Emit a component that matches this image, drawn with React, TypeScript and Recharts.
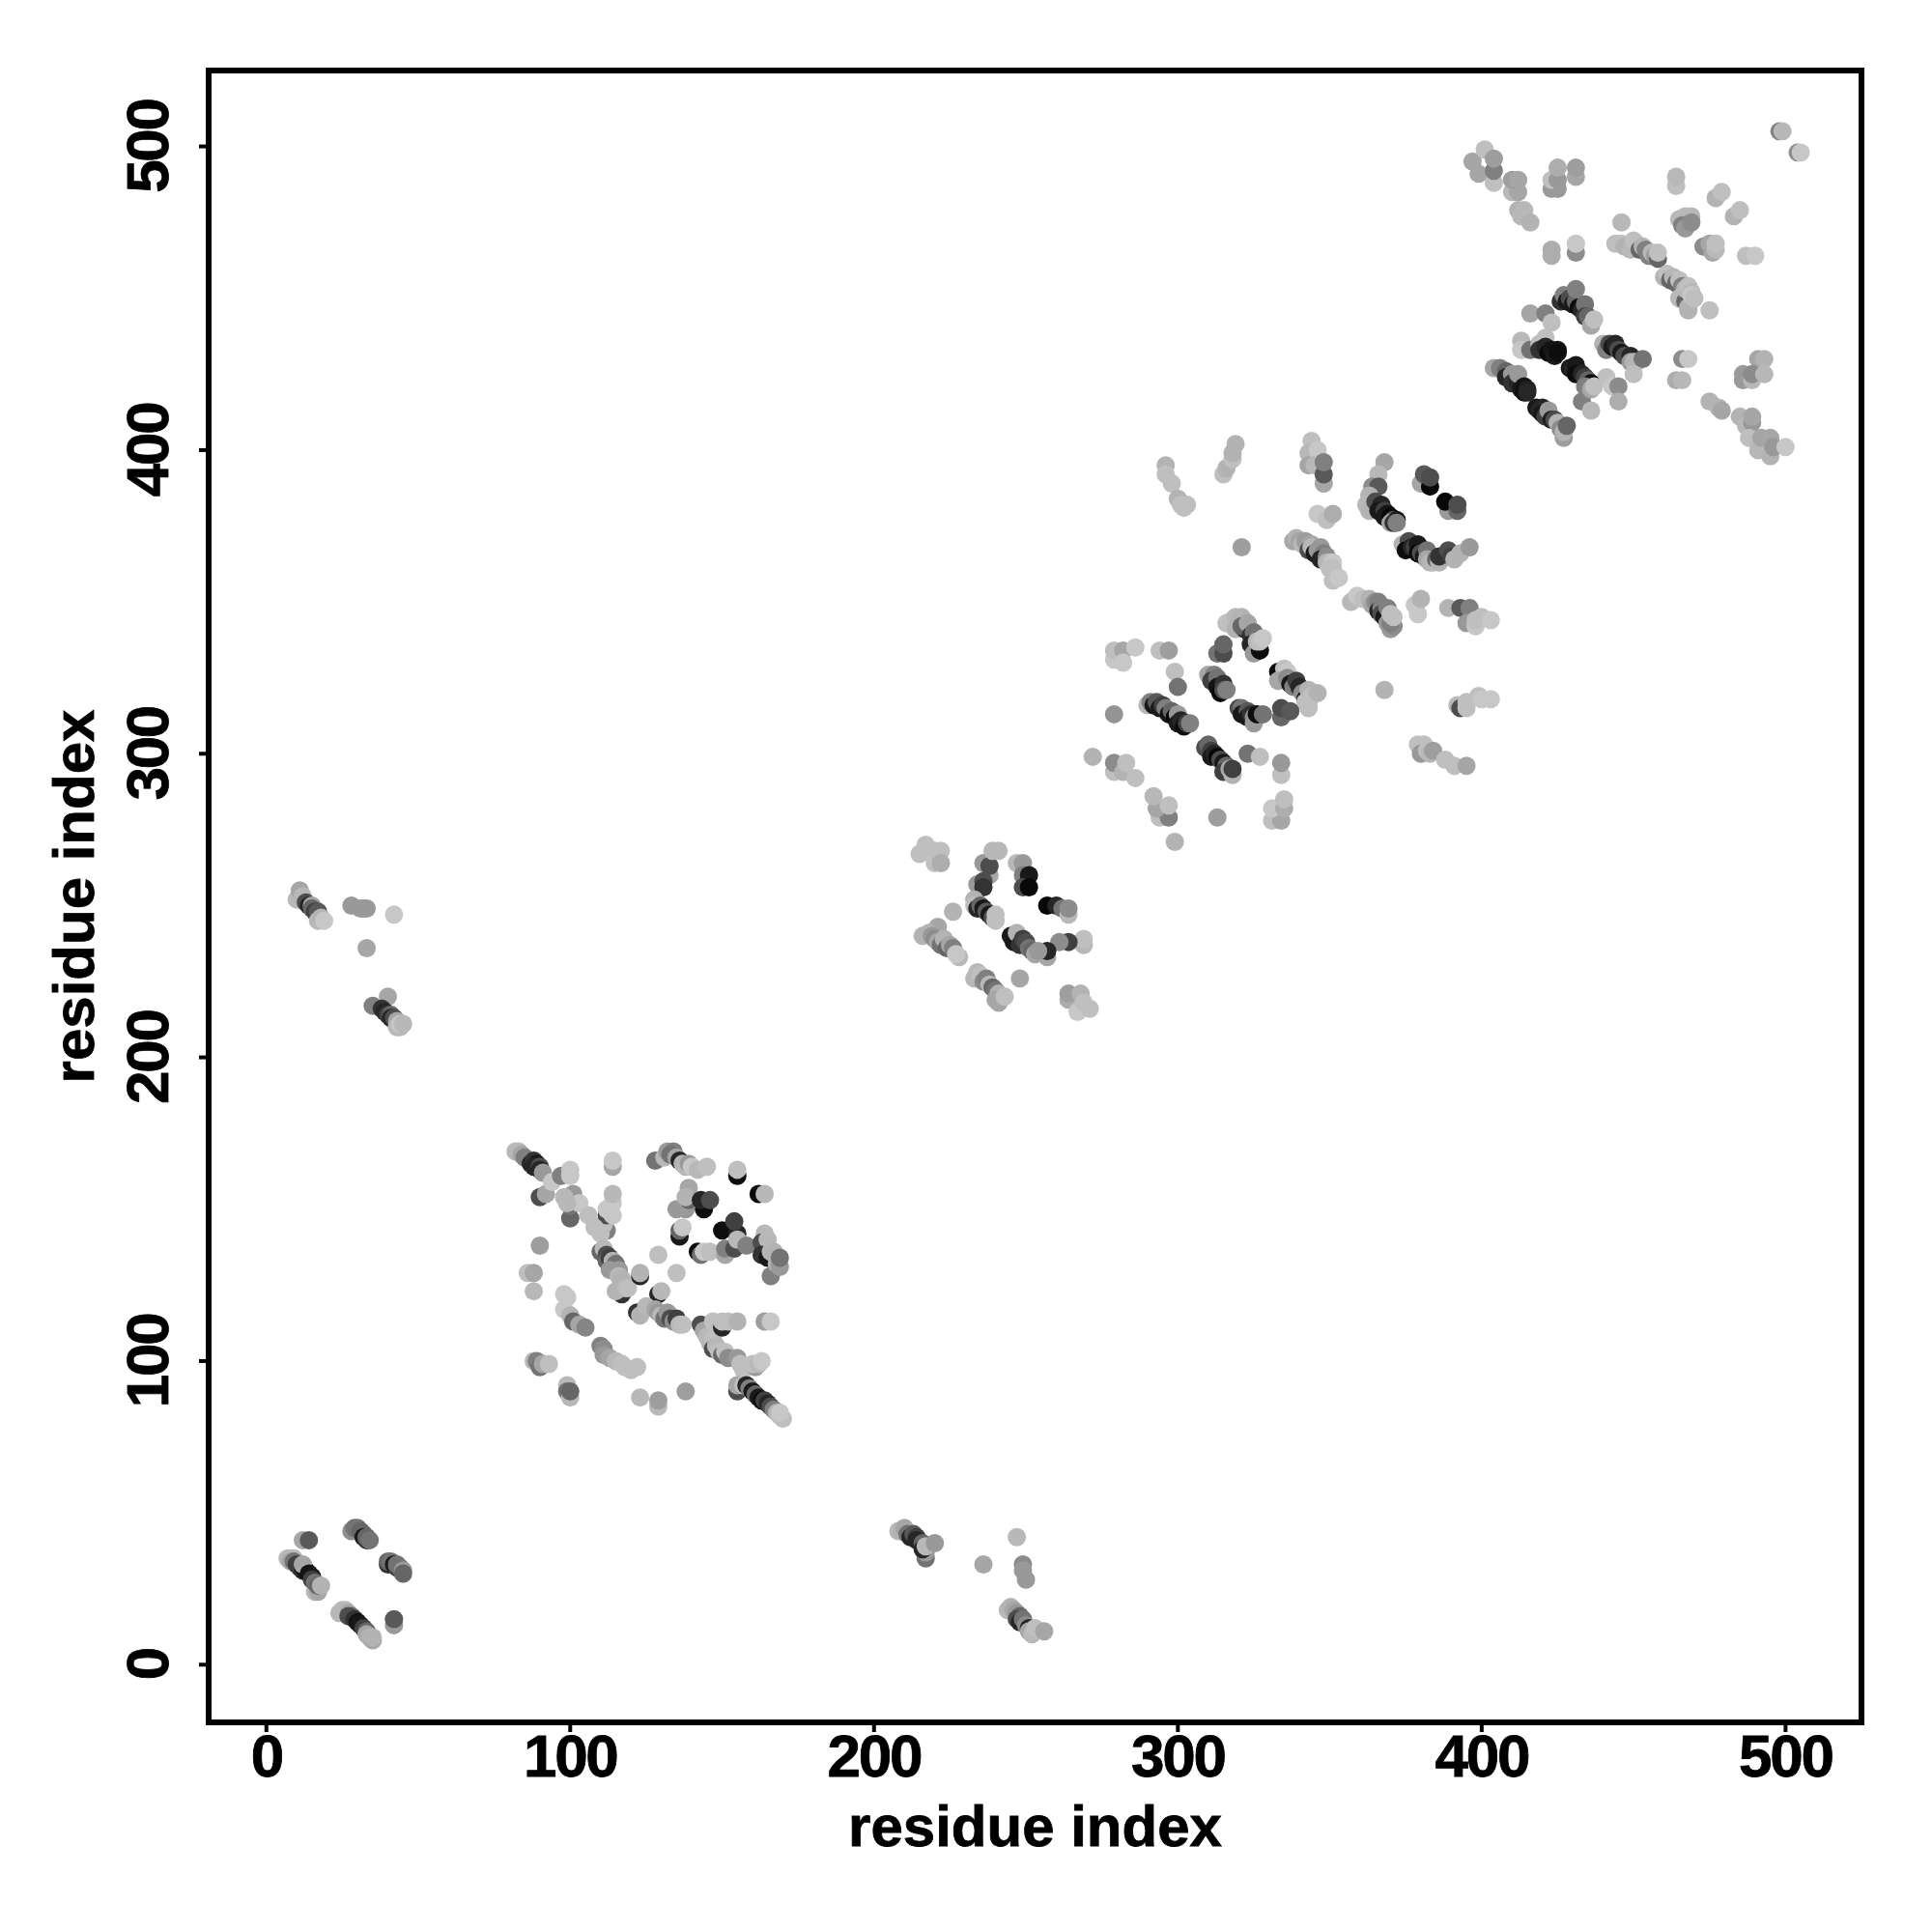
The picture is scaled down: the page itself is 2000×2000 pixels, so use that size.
import React from 'react';
import { ScatterChart, Scatter, XAxis, YAxis, ZAxis, Cell, ReferenceArea } from 'recharts';

type T = [number, number, number];
// each contact: [residue i, residue j, score 0-100]
const contactsA: T[] = [[7,35,28],[8,35,28],[9,35,28],[8,34,35],[9,34,55],[10,33,75],[11,32,75],[12,31,85],[13,31,92],[12,33,35],[14,30,92],[15,29,90],[16,24,28],[17,24,35],[15,28,75],[16,27,55],[17,26,60],[18,26,30],
[24,17,28],[25,18,28],[26,18,28],[27,17,35],[28,16,55],[27,16,70],[29,15,80],[30,14,92],[31,13,90],[32,12,75],[33,11,60],[33,10,35],[34,9,30],[35,8,35],[35,9,30],
[28,44,45],[29,45,55],[30,45,55],[31,44,60],[32,43,60],[32,42,90],[33,41,80],[33,42,60],[34,41,55],
[40,33,80],[40,34,60],[41,34,55],[42,33,90],[43,32,75],[43,33,55],[44,32,55],[45,31,40],[45,30,60],
[12,41,35],[14,41,65],[42,13,40],[42,15,65]];
const contactsB: T[] = [[10,252,28],[11,255,35],[12,253,28],[13,251,70],[14,250,85],[15,250,35],[15,249,60],[16,248,75],[17,248,65],[17,245,28],[18,246,30],[19,245,22],
[28,250,40],[31,249,40],[32,249,40],[33,249,40],[42,247,22],[33,236,35],[35,217,50],[40,220,35],[38,216,80],[39,215,85],[40,214,75],[41,214,60],[41,213,85],[42,213,70],[43,212,35],[43,210,28],[44,210,28],[44,211,22],[45,211,28]];
const contactsC: T[] = [[208,44,28],[209,44,30],[210,45,35],[211,43,55],[212,42,85],[213,43,65],[214,42,75],[214,41,85],[216,40,60],[217,35,55],[217,37,40],[216,38,85],[217,39,28],[220,40,40],
[236,33,35],[247,42,28],[249,33,45],[249,31,40],[250,28,40],
[244,18,28],[245,19,30],[246,18,35],[247,17,40],[248,16,60],[247,15,70],[248,14,85],[249,15,55],[250,13,45],[251,12,85],[251,11,35],[252,10,28],[253,12,25],[256,11,35]];
const contactsD: T[] = [[82,169,28],[83,169,28],[84,168,35],[85,167,50],[87,165,85],[88,166,80],[89,165,90],[88,164,85],[90,164,70],[90,163,85],[90,154,70],[92,155,35],[91,162,40],[94,159,22],[97,161,50],[100,163,22],[100,161,22],
[114,164,35],[114,166,22],[112,143,50],[111,145,25],[112,148,70],[112,150,22],[114,148,22],[114,152,22],[114,155,28],
[100,147,60],[100,151,55],[101,155,40],[103,152,22],[98,154,28],[99,152,28],[106,148,25],[108,144,25],[110,142,25],
[90,138,38],[86,129,25],[88,129,35],[88,123,28],
[110,136,60],[111,137,28],[112,135,70],[112,133,60],[113,134,75],[114,133,30],[115,132,55],[113,130,40],[116,130,40],[116,128,28],[117,127,30],[117,122,80],[115,123,30],[118,124,28],[119,124,25],
[123,128,85],[123,129,30],[129,135,25],[135,129,25],[129,122,85],[130,123,28],[122,116,80],[123,115,30],[125,118,28],
[128,117,35],[129,116,40],[130,115,28],[131,114,55],[132,116,40],[133,114,70],[134,113,45],[135,114,75],[136,112,28],[137,112,25],
[143,112,70],[144,110,35],[145,108,28],[146,106,28],[147,107,25],[147,104,70],[148,105,28],[149,103,25],[150,102,60],[151,103,25],[152,101,45],
[147,113,25],[150,111,85],[150,113,25],[152,113,25],[155,113,30],[164,113,38],[166,113,22],
[155,101,40],[156,99,25],[157,97,25],[161,98,40],[160,99,25],[162,99,28],[163,100,22],[155,90,70],[155,92,35],[157,92,25],
[158,92,85],[159,91,50],[160,90,90],[161,89,60],[162,88,90],[163,87,95],[164,87,75],[165,86,85],[166,85,70],[167,84,50],[168,83,30],[169,82,25],[170,81,25],[169,83,22],
[128,166,55],[131,167,28],[132,169,40],[134,169,50],[133,168,55],[135,167,35],[136,166,85],[137,165,30],[138,164,28],[139,165,40],[140,164,22],[142,163,28],[145,164,25],
[139,157,35],[135,150,40],[138,150,40],[139,153,60],[138,154,30],[144,150,95],[143,153,85],[146,153,70],
[155,161,95],[155,163,25],[162,155,97],[164,155,28],[136,141,90],[136,143,60],[137,144,22],[142,136,95],[143,135,55],[144,136,22],[146,136,25],
[151,135,35],[151,137,50],[150,143,95],[155,142,85],[154,146,75],[154,137,70],[155,140,28],[158,138,50],
[166,128,50],[164,142,28],[163,139,70],[165,140,28],[163,135,80],[165,134,90],[166,136,28],[167,136,30],[168,132,30],[169,131,40],[169,134,55],
[98,122,22],[99,121,22],[98,117,22],[100,115,30],[101,113,60],[103,112,35],[105,111,48],
[110,105,50],[111,104,45],[111,102,40],[113,101,35],[115,100,28],[117,99,25],[118,98,25],[120,97,25],[122,98,25],
[88,100,28],[89,100,50],[90,98,55],[91,99,35],[93,99,25],[99,92,28],[99,90,55],[100,88,28],[100,90,60],
[123,88,28],[129,85,28],[129,87,38],[138,90,38]];
const contactsE: T[] = [[215,267,25],[217,270,25],[220,268,25],[222,268,25],[220,264,25],[222,264,32],
[236,264,40],[238,260,35],[238,263,70],[239,268,28],[241,268,28],[234,257,40],[236,258,70],[236,256,80],[233,252,30],[233,250,25],
[234,249,85],[235,250,60],[236,249,90],[237,248,65],[238,247,90],[239,246,70],[240,245,25],[240,247,25],[226,248,30],
[247,264,28],[249,264,40],[249,260,50],[251,260,90],[249,256,70],[251,256,97],[257,250,97],[260,250,85],[262,249,55],[264,247,28],[264,249,45],
[269,237,28],[269,239,25],[264,238,75],[261,238,45],[257,233,35],[257,235,85],
[245,240,90],[246,238,90],[247,241,30],[248,237,80],[249,239,75],[250,238,70],[251,236,55],[252,235,60],[253,234,35],[254,235,40],
[216,240,30],[221,243,35],[218,241,30],[219,240,40],[220,239,45],[221,238,35],[222,237,55],[223,239,30],[224,236,60],[225,237,35],[226,236,50],[228,233,28],[227,234,22],
[233,226,28],[234,228,28],[235,227,25],[236,225,45],[237,226,50],[238,224,28],[239,223,60],[240,222,55],[241,221,30],[240,219,35],[241,218,35],[243,220,25],
[248,226,35],[264,219,32],[264,221,38],[268,221,30],[267,215,22],[269,218,25],[271,216,25]];
const contactsF: T[] = [[279,331,22],[279,334,25],[282,334,35],[282,330,22],[286,335,22],[294,334,25],[297,334,38],[299,327,25],[300,322,55],[279,313,42],
[290,316,28],[291,317,50],[292,316,90],[293,317,65],[294,315,90],[295,316,75],[296,315,50],[297,313,92],[298,314,60],[299,312,97],[300,313,40],[300,310,90],[301,311,85],[302,309,95],[303,310,75],[304,310,50],
[309,302,70],[310,303,60],[311,301,75],[311,299,90],[312,300,85],[313,299,97],[314,298,70],[315,297,90],[316,296,60],[315,294,75],[317,295,35],[318,293,30],[318,295,75],
[323,300,55],[327,299,25],[334,293,25],[334,297,40],[331,278,25],[334,278,35],[331,282,22],[335,282,32],[335,285,25],[313,279,38],[299,271,30],
[294,279,25],[297,279,50],[293,282,35],[297,283,25],[292,286,28],[279,294,25],[279,297,45],[282,294,30],[283,297,25],[286,292,25],[272,299,30],
[313,333,55],[315,333,70],[315,336,60],
[316,343,25],[318,344,25],[319,345,28],[320,343,30],[319,341,30],[321,345,30],[322,341,85],[321,342,60],[323,343,35],[324,339,80],[325,340,55],[324,336,85],[326,335,90],[325,333,40],[327,334,95],[326,337,28],[327,337,25],[328,338,22],
[310,326,35],[312,326,50],[311,324,75],[313,325,55],[313,322,92],[315,323,80],[314,320,97],[315,321,70],[316,321,50],
[320,315,70],[321,315,55],[321,313,90],[323,314,65],[323,312,90],[324,313,80],[325,312,45],[325,310,40],[326,313,95],[328,313,55],
[333,327,95],[335,328,25],[336,327,22],[333,324,35],[336,325,45],[337,323,90],[338,322,50],[339,324,75],[340,322,85],[341,320,45],[342,318,90],[342,317,25],[343,316,25],[343,321,30],[344,319,25],[346,320,30],
[334,312,60],[334,315,70],[337,314,65],[343,315,25]];
const contactsG: T[] = [[344,403,25],[348,389,35],[343,399,28],[344,397,28],[343,395,35],[346,400,22],[345,395,28],[348,392,65],[348,396,50],[346,379,22],[349,377,25],[351,379,32],
[338,370,35],[339,371,30],[340,370,35],[341,369,28],[342,370,38],[344,369,35],[343,367,70],[344,368,28],[345,366,90],[346,367,40],[347,368,40],[348,366,50],[347,364,85],[349,365,45],[349,363,30],[350,363,28],[351,363,22],[350,361,25],[351,361,25],[351,357,25],[353,358,22],
[357,350,28],[359,352,22],[361,351,25],[363,351,30],[364,349,35],[365,350,45],[366,350,50],[366,347,85],[367,348,50],[367,346,70],[368,345,90],[369,343,40],[370,341,40],[371,342,45],[370,343,50],[369,348,50],[371,345,25],[370,346,25],
[378,349,22],[379,346,22],[380,351,30],[389,348,30],[393,348,65],[396,348,50],[395,343,40],[398,342,22],[398,344,25],[400,345,25],[403,344,22],
[368,396,35],[366,392,28],[364,388,45],[366,388,65],[363,385,30],[362,382,28],[363,380,30],
[365,383,70],[367,382,85],[366,380,90],[368,380,75],[369,379,92],[368,378,90],[370,378,97],[371,377,60],[370,376,35],[372,377,90],[371,376,80],[372,376,50],
[380,389,35],[383,388,97],[381,392,65],[383,391,70],[389,380,40],[388,383,97],[392,380,60],[392,382,70],
[374,369,30],[376,370,70],[375,367,95],[377,368,85],[378,368,75],[379,369,90],[379,366,97],[380,366,70],[381,365,90],[382,367,55],[382,364,35],[383,363,30],[384,363,28],[385,364,60],[386,363,30],[386,365,80],[389,367,70],[390,365,75],[391,364,30],[393,366,30],[396,368,40],
[368,321,30],[321,368,38],[392,316,28],[393,315,70],[395,317,25],[395,315,25],[399,319,25],[400,318,22],[403,318,22],
[379,303,25],[381,303,25],[380,300,40],[382,301,25],[383,300,28],[384,301,38],[388,298,25],[391,296,25],[395,296,35],
[296,395,30],[296,392,25],[298,389,25],[300,384,30],[301,382,25],[302,381,25],[303,382,25],[315,392,25],[316,394,30],[318,397,25],[318,399,30],[319,402,30]];
const contactsH: T[] = [[397,495,35],[401,499,25],[399,491,35],[404,488,25],[404,492,50],[404,496,38],[410,485,28],[412,485,35],[410,489,38],[412,489,35],[412,479,30],[414,479,28],[413,477,28],[416,475,30],
[423,486,40],[425,486,40],[423,489,25],[425,489,40],[425,493,32],[431,490,35],[431,493,38],[431,465,45],[431,468,22],[423,464,32],[423,466,32],
[464,487,25],[464,490,28],[477,483,30],[479,485,25],[483,477,30],[485,479,25],[446,475,28],
[444,468,25],[446,468,25],[447,467,30],[449,466,28],[450,469,25],[451,468,25],[452,466,60],[453,467,30],[454,466,50],[455,464,50],[456,465,28],[457,464,38],[458,463,60],[458,465,25],
[465,476,28],[467,477,28],[469,477,28],[466,474,50],[467,473,40],[469,475,45],[473,467,45],[475,468,35],[476,465,35],[477,466,28],[477,468,25],[487,464,25],[490,464,22],
[460,457,30],[461,458,25],[462,456,60],[463,457,28],[464,455,60],[465,456,25],[466,454,50],[465,450,28],[467,449,60],[468,447,28],[468,446,30],[467,453,28],[468,454,25],[469,452,28],[469,451,22],[470,450,25],[475,446,25],
[466,430,45],[468,430,22],[464,423,32],[466,423,28],[491,430,35],[493,430,30],[486,425,40],[486,423,40],[489,423,28],[489,425,45],[493,425,28],
[475,416,30],[478,414,30],[479,413,35],[485,411,30],[487,408,28],[489,409,40],[489,411,35],[488,404,25],[491,400,28],[492,404,35],[495,398,30],[495,404,35],[496,401,40],[500,401,22],[498,505,50],[499,505,28],[504,498,45],[505,498,22],
[426,449,80],[427,451,50],[428,449,90],[429,450,70],[430,448,90],[431,449,60],[432,447,95],[433,446,85],[434,448,55],[434,444,75],[435,444,60],[436,441,35],[431,453,50],[437,443,25],
[416,445,35],[421,445,50],[423,442,25],[413,436,28],[413,433,22],[416,433,55],[419,435,25],[421,437,25],[419,433,80],[421,434,85],[422,432,97],[423,433,92],[424,431,90],[425,433,92],[425,432,95],
[440,435,30],[441,433,50],[442,435,70],[443,434,90],[444,435,85],[445,433,70],[446,432,90],[447,431,70],[449,431,85],[449,429,40],[450,429,30],[451,429,30],[453,430,55],[450,425,25],
[441,424,25],[443,421,22],[445,421,45],[445,416,32],[433,416,50],[436,413,28],
[429,427,90],[430,427,85],[431,428,90],[431,425,95],[433,425,85],[434,424,75],[435,423,60],[436,422,95],[434,421,50],[436,420,35],[437,421,25],
[404,427,35],[406,427,50],[408,426,60],[408,424,85],[410,425,40],[411,423,60],[410,422,80],[412,422,85],[412,425,40],[413,420,90],[414,421,92],[414,419,95],[415,420,88],[415,419,85],
[418,414,90],[419,413,85],[420,414,85],[420,412,90],[421,411,75],[422,413,40],[423,410,88],[424,410,70],[425,409,30],[427,404,38],[426,407,45],[427,406,30],[428,408,60]];

const axisTicks = [0, 100, 200, 300, 400, 500];
const axisDomain: [number, number] = [-19, 525];
const axisTitle = 'residue index';
const FONT = '"Liberation Sans", Arial, sans-serif';

const rows = [...contactsA, ...contactsB, ...contactsC, ...contactsD, ...contactsE, ...contactsF, ...contactsG, ...contactsH]
  .map(([i, j, score]) => ({ i, j, score }));

const greyOf = (score: number) => {
  const g = Math.round(255 * (1 - score / 100));
  return `rgb(${g},${g},${g})`;
};

const XTick = (p: any) => (
  <text
    x={p.x}
    y={p.y + 46}
    textAnchor="middle"
    fontFamily={FONT}
    fontWeight={700}
    fontSize={62}
    letterSpacing={-2.3}
    stroke="#000"
    strokeWidth={0.8}
    fill="#000"
  >
    {p.payload.value}
  </text>
);

const YTick = (p: any) => {
  const tx = p.x - 32;
  return (
    <text
      x={tx}
      y={p.y}
      transform={`rotate(-90 ${tx} ${p.y})`}
      textAnchor="middle"
      fontFamily={FONT}
      fontWeight={700}
      fontSize={62}
      letterSpacing={-2.3}
      stroke="#000"
      strokeWidth={0.8}
      fill="#000"
    >
      {p.payload.value}
    </text>
  );
};

const titleStyle = { fontFamily: FONT, fontWeight: 700, fontSize: 60, fill: '#000', stroke: '#000', strokeWidth: 0.8 };

export default function App() {
  return (
    <ScatterChart width={1992} height={1992} margin={{ top: 65, right: 73, bottom: 97, left: 88 }}>
      <XAxis
        type="number"
        dataKey="i"
        domain={axisDomain}
        ticks={axisTicks}
        allowDataOverflow
        height={120}
        axisLine={false}
        tickSize={10}
        tickMargin={0}
        tickLine={{ stroke: '#000', strokeWidth: 4 }}
        tick={<XTick />}
        label={{ value: axisTitle, position: 'insideBottom', offset: -8, style: titleStyle }}
      />
      <YAxis
        type="number"
        dataKey="j"
        domain={axisDomain}
        ticks={axisTicks}
        allowDataOverflow
        width={120}
        axisLine={false}
        tickSize={10}
        tickMargin={0}
        tickLine={{ stroke: '#000', strokeWidth: 4 }}
        tick={<YTick />}
        label={{ value: axisTitle, angle: -90, position: 'insideLeft', offset: -20, style: { ...titleStyle, textAnchor: 'middle' } }}
      />
      <ZAxis type="number" dataKey="score" range={[283, 283]} />
      <Scatter data={rows} isAnimationActive={false}>
        {rows.map((r, k) => (
          <Cell key={k} fill={greyOf(r.score)} />
        ))}
      </Scatter>
      <ReferenceArea ifOverflow="visible" x1={axisDomain[0]} x2={axisDomain[1]} y1={axisDomain[0]} y2={axisDomain[1]} fill="none" stroke="#000" strokeWidth={6} />
    </ScatterChart>
  );
}
